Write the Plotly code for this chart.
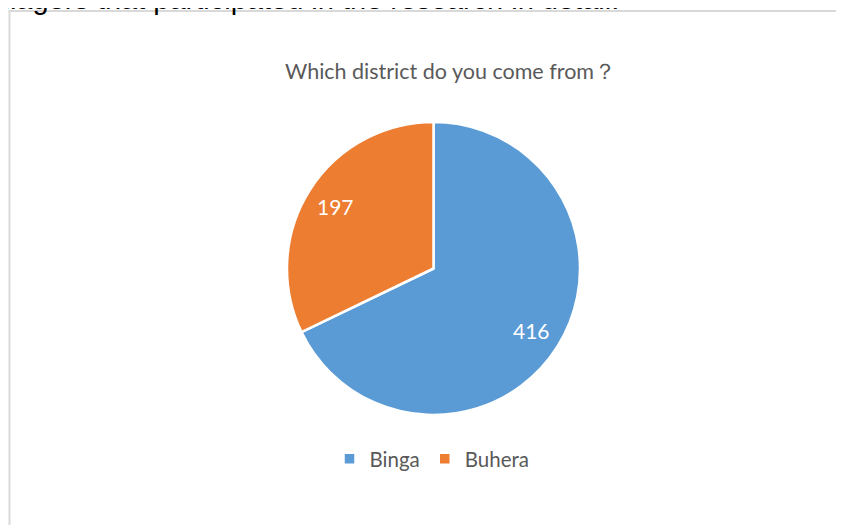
import numpy as np
import plotly.graph_objects as go

# ---- data ----
districts = ["Binga", "Buhera"]
counts = [416, 197]
colors = ["#5B9BD5", "#ED7D31"]
chart_title = "Which district do you come from？"
caption_text = "illagers that participated in the research in detail."

# the page body adds an 8px margin, so the figure is 8px smaller and all
# pixel positions below are relative to the page's top-left corner
OFF = 8
W, H = 844 - OFF, 525 - OFF

def px(x):
    return (x - OFF) / W

def py(y):
    return 1 - (y - OFF) / H

# pie geometry (pixels in the page)
cx, cy, r = 433.5, 268.5, 146.5

fig = go.Figure(
    go.Pie(
        labels=districts,
        values=counts,
        sort=False,
        direction="clockwise",
        rotation=0,
        marker=dict(colors=colors, line=dict(color="white", width=2.5)),
        textinfo="none",
        domain=dict(x=[px(cx - r), px(cx + r)], y=[py(cy + r), py(cy - r)]),
        hoverinfo="label+value+percent",
    )
)

# data labels placed along each slice's middle angle (from the values)
vals = np.array(counts, dtype=float)
cum = np.cumsum(vals) - vals / 2
mid = cum / vals.sum() * 2 * np.pi  # clockwise from 12 o'clock
label_r = 0.79 * r
annotations = []
for v, a in zip(counts, mid):
    lx = cx + label_r * np.sin(a)
    ly = cy - label_r * np.cos(a)
    annotations.append(dict(
        text=str(v), xref="paper", yref="paper", x=px(lx), y=py(ly),
        xanchor="center", yanchor="middle", showarrow=False,
        font=dict(family="Lato", size=21, color="white")))

annotations += [
    dict(text=chart_title, xref="paper", yref="paper",
         x=px(451), y=py(71), xanchor="center", yanchor="middle",
         showarrow=False,
         font=dict(family="Lato", size=21.5, color="#595959")),
    dict(text=caption_text, xref="paper", yref="paper",
         x=px(-5), y=py(-1), xanchor="left", yanchor="middle",
         showarrow=False,
         font=dict(family="Liberation Sans", size=29, color="black")),
]

fig.update_layout(
    width=W,
    height=H,
    margin=dict(l=0, r=0, t=0, b=0),
    paper_bgcolor="white",
    plot_bgcolor="white",
    showlegend=True,
    legend=dict(
        orientation="h",
        x=px(432),
        xanchor="center",
        y=py(459),
        yanchor="middle",
        font=dict(family="Lato", size=20.5, color="#595959"),
    ),
    shapes=[
        dict(type="line", xref="paper", yref="paper",
             x0=px(9.5), x1=px(9.5), y0=py(10.5), y1=-0.05,
             line=dict(color="#D9D9D9", width=2)),
        dict(type="line", xref="paper", yref="paper",
             x0=px(8.5), x1=1.05, y0=py(11), y1=py(11),
             line=dict(color="#D9D9D9", width=2)),
    ],
    annotations=annotations,
)

fig.write_html("out.html")
